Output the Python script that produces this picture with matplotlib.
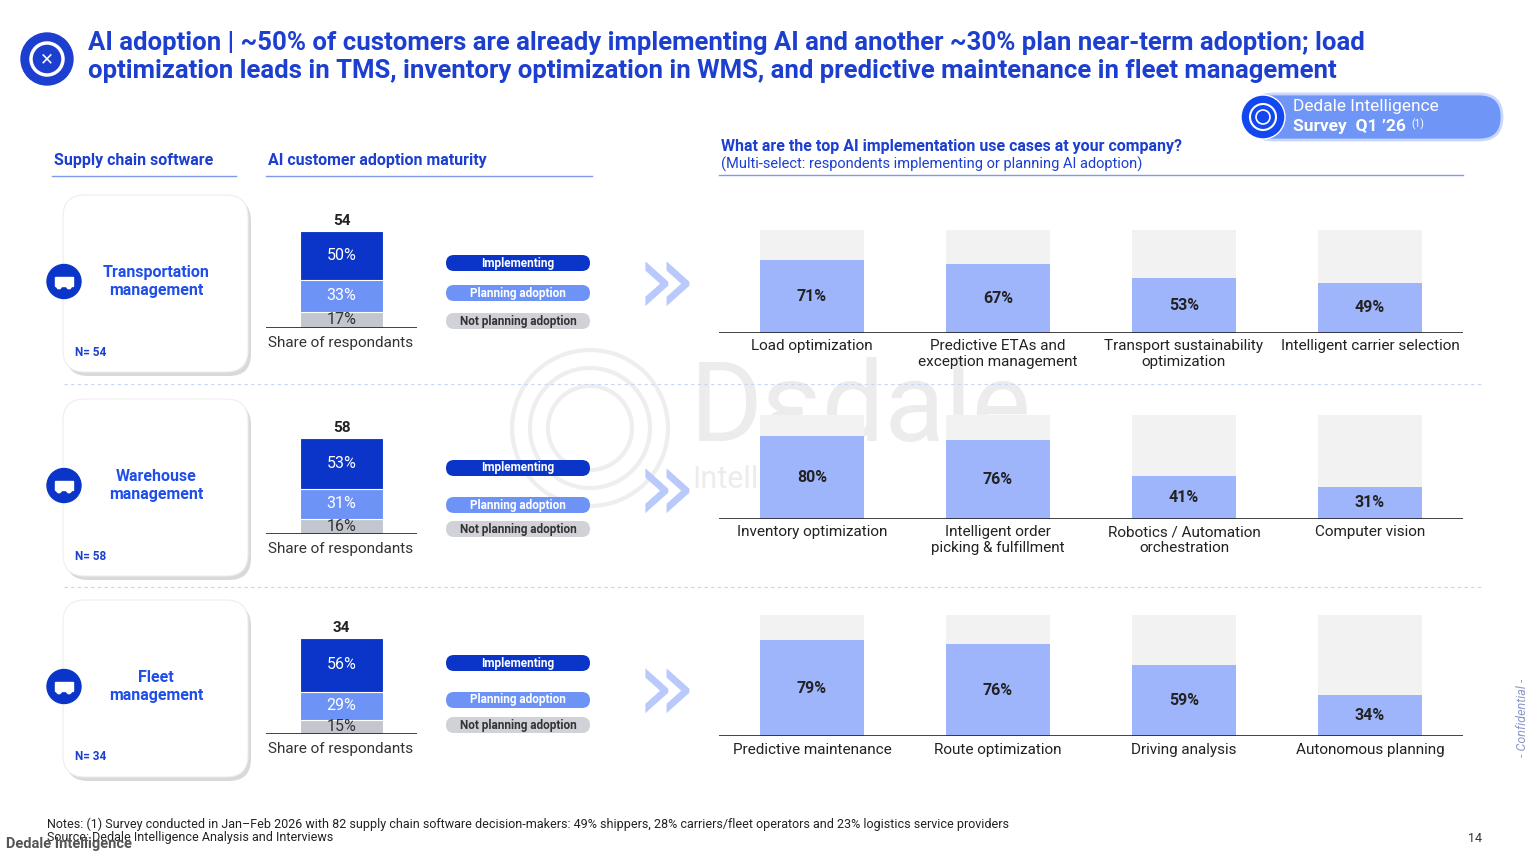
import matplotlib
matplotlib.use('Agg')
import matplotlib.pyplot as plt
from matplotlib.patches import FancyBboxPatch, Circle, Rectangle

plt.rcParams['font.family'] = ['Roboto', 'DejaVu Sans']

W, H = 1533, 859
DARK = '#0a35c8'
MID = '#6e93f7'
GREY = '#c3c6cf'
LIGHT = '#9eb5fb'
BG = '#f2f2f2'
TITLE_C = '#1c3fd0'

# data
software = ['Transportation\nmanagement', 'Warehouse\nmanagement', 'Fleet\nmanagement']
n_resp = [54, 58, 34]
implementing = [50, 53, 56]
planning = [33, 31, 29]
not_planning = [17, 16, 15]
use_cases = [
    ['Load optimization', 'Predictive ETAs and\nexception management',
     'Transport sustainability\noptimization', 'Intelligent carrier selection'],
    ['Inventory optimization', 'Intelligent order\npicking & fulfillment',
     'Robotics / Automation\norchestration', 'Computer vision'],
    ['Predictive maintenance', 'Route optimization', 'Driving analysis', 'Autonomous planning'],
]
use_values = [[71, 67, 53, 49], [80, 76, 41, 31], [79, 76, 59, 34]]

fig = plt.figure(figsize=(W / 100, H / 100), dpi=100)
bg = fig.add_axes([0, 0, 1, 1])
bg.set_xlim(0, W)
bg.set_ylim(H, 0)
bg.axis('off')


def px_axes(x0, y0, x1, y1):
    return fig.add_axes([x0 / W, 1 - y1 / H, (x1 - x0) / W, (y1 - y0) / H])


# title
bg.add_patch(Circle((47, 59), 26, color=TITLE_C))
bg.add_patch(Circle((47, 59), 16, fill=False, ec='white', lw=2.5))
bg.text(47, 59, '✕', color='white', fontsize=12, ha='center', va='center', family=['DejaVu Sans'])
bg.text(88, 43, 'AI adoption | ~50% of customers are already implementing AI and another ~30% plan near-term adoption; load',
        color=TITLE_C, fontsize=18.5, fontweight='bold', va='center')
bg.text(88, 71, 'optimization leads in TMS, inventory optimization in WMS, and predictive maintenance in fleet management',
        color=TITLE_C, fontsize=18.5, fontweight='bold', va='center')

# survey badge
bg.add_patch(FancyBboxPatch((1250, 94), 252, 46, boxstyle='round,pad=0,rounding_size=23',
                            fc='#6f95f6', ec='#c9d6fd', lw=2))
bg.add_patch(Circle((1263, 117), 22, color='#1348f0', ec='white', lw=1))
bg.add_patch(Circle((1263, 117), 13, fill=False, ec='white', lw=1.5))
bg.add_patch(Circle((1263, 117), 7, fill=False, ec='white', lw=1.2))
bg.text(1293, 107, 'Dedale Intelligence', color='white', fontsize=12.5, va='center')
bg.text(1293, 127, "Survey  Q1 ’26", color='white', fontsize=12.5, fontweight='bold', va='center')
bg.text(1411, 124, '(1)', color='white', fontsize=7.5, va='center')

# section headers
bg.text(54, 160, 'Supply chain software', color=TITLE_C, fontsize=11.5, fontweight='bold', va='center')
bg.plot([52, 236], [176, 176], color='#7f99e8', lw=1)
bg.text(268, 160, 'AI customer adoption maturity', color=TITLE_C, fontsize=11.5, fontweight='bold', va='center')
bg.plot([266, 592], [176, 176], color='#7f99e8', lw=1)
bg.text(721, 146, 'What are the top AI implementation use cases at your company?', color=TITLE_C,
        fontsize=11.5, fontweight='bold', va='center')
bg.text(721, 164, '(Multi-select: respondents implementing or planning AI adoption)', color=TITLE_C,
        fontsize=10.5, va='center')
bg.plot([719, 1463], [175, 175], color='#7f99e8', lw=1)

# watermark
bg.text(690, 410, 'Dεdale', color='#ececec', fontsize=80, va='center', zorder=0)
bg.text(692, 480, 'Intelligence', color='#ececec', fontsize=22, va='center', zorder=0)
for rad in (78, 60, 42):
    bg.add_patch(Circle((590, 428), rad, fill=False, ec='#eeeeee', lw=3, zorder=0))

# dotted separators
for y in (384, 587):
    bg.plot([64, 1483], [y, y], color='#c8d4f4', lw=0.8, ls=(0, (3, 3)))

card_top = [195, 399, 600]
card_bot = [372, 576, 777]
stack_top = [231, 438, 638]
stack_base = [328, 534, 734]
use_top = [230, 415, 615]
use_base = [333, 519, 736]
legend_y = [[263, 293, 321], [468, 505, 529], [663, 700, 725]]

for r in range(3):
    t, b = card_top[r], card_bot[r]
    bg.add_patch(FancyBboxPatch((66, t + 4), 185, b - t, boxstyle='round,pad=0,rounding_size=22',
                                fc='#d9d9d9', ec='none', zorder=1))
    bg.add_patch(FancyBboxPatch((63, t), 185, b - t, boxstyle='round,pad=0,rounding_size=22',
                                fc='white', ec='#eeeeee', lw=0.8, zorder=2))
    cy = (t + b) / 2 - 2
    bg.add_patch(Circle((64, cy), 17, color=DARK, zorder=3))
    # simple white icon
    bg.add_patch(Rectangle((55, cy - 5), 18, 9, color='white', zorder=4))
    bg.add_patch(Circle((59, cy + 5), 2.2, color='white', zorder=4))
    bg.add_patch(Circle((69, cy + 5), 2.2, color='white', zorder=4))
    bg.text(156, cy, software[r], color='#1f4fe8', fontsize=11.5, fontweight='bold',
            ha='center', va='center', zorder=4, linespacing=1.3)
    bg.text(75, b - 20, f'N= {n_resp[r]}', color=TITLE_C, fontsize=8.5, fontweight='bold',
            va='center', zorder=4)

    # stacked bar
    ax = px_axes(266, stack_top[r], 417, stack_base[r])
    ax.set_xlim(0, 1)
    ax.set_ylim(0, 100)
    segs = [(not_planning[r], GREY, '#333333'), (planning[r], MID, 'white'), (implementing[r], DARK, 'white')]
    bottom = 0
    for val, col, tc in segs:
        ax.bar(0.5, val, width=0.55, bottom=bottom, color=col, edgecolor='white', lw=0.8)
        ax.text(0.5, bottom + val / 2, f'{val}%', color=tc, fontsize=11.5, ha='center', va='center')
        bottom += val
    ax.text(0.5, 103, str(n_resp[r]), fontsize=11, fontweight='bold', ha='center', va='bottom', color='#222222')
    ax.axis('off')
    ax.axhline(0, color='#222222', lw=1.2)
    ax.patch.set_alpha(0)
    bg.text(341, stack_base[r] + 15, 'Share of respondants', fontsize=11, ha='center', va='center', color='#333333')

    # legend pills
    for (lab, fc, tc), y in zip([('Implementing', DARK, 'white'), ('Planning adoption', MID, 'white'),
                                 ('Not planning adoption', '#d0d2d8', '#333333')], legend_y[r]):
        bg.add_patch(FancyBboxPatch((446, y - 8), 144, 16, boxstyle='round,pad=0,rounding_size=8',
                                    fc=fc, ec='none'))
        bg.text(518, y, lab, color=tc, fontsize=8.5, fontweight='bold', ha='center', va='center')

    # chevrons
    cy2 = (stack_top[r] + stack_base[r]) / 2 + 12
    bg.text(666, cy2 - 6, '»', color='#b9c9fb', fontsize=72, ha='center', va='center',
            family=['DejaVu Sans'])

    # use case bars
    ax2 = px_axes(719, use_top[r], 1463, use_base[r])
    ax2.set_xlim(-0.5, 3.5)
    ax2.set_ylim(0, 100)
    xs = range(4)
    ax2.bar(xs, [100] * 4, width=0.555, color=BG)
    ax2.bar(xs, use_values[r], width=0.555, color=LIGHT)
    for x, v, lab in zip(xs, use_values[r], use_cases[r]):
        ax2.text(x, v / 2, f'{v}%', fontsize=11.5, fontweight='bold',
                 ha='center', va='center', color='#222222')
        ax2.text(x, -6, lab, fontsize=11, ha='center', va='top', color='#222222', linespacing=1.15)
    ax2.axis('off')
    ax2.axhline(0, color='#222222', lw=1.2)
    ax2.patch.set_alpha(0)

# footer
bg.text(47, 824, 'Notes: (1) Survey conducted in Jan–Feb 2026 with 82 supply chain software decision-makers: 49% shippers, '
        '28% carriers/fleet operators and 23% logistics service providers', fontsize=9, va='center', color='#222222')
bg.text(47, 837, 'Source: Dedale Intelligence Analysis and Interviews', fontsize=9, va='center', color='#222222')
bg.text(6, 844, 'Dedale Intelligence', fontsize=10.5, fontweight='bold', va='center', color='#555555')
bg.text(1475, 838, '14', fontsize=9, ha='center', va='center', color='#333333')
bg.text(1522, 718, '- Confidential -', fontsize=9, style='italic', rotation=90, ha='center', va='center',
        color='#8a97c8')

fig.savefig('out.png', dpi=100)
